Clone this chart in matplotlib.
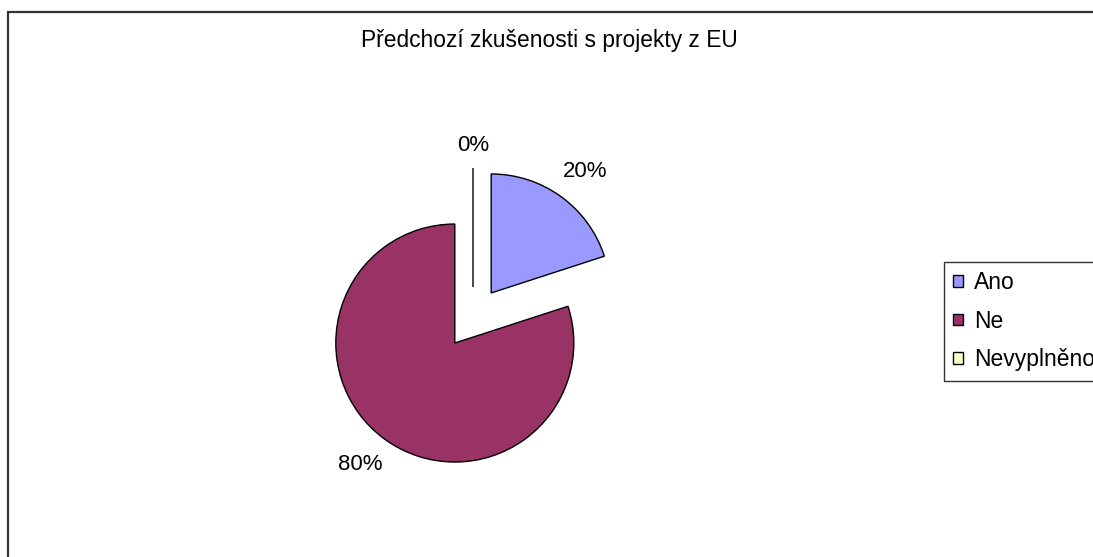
import numpy as np
import matplotlib
matplotlib.use("Agg")
import matplotlib.pyplot as plt
from matplotlib.patches import Rectangle

plt.rcParams["font.family"] = ["Liberation Sans", "DejaVu Sans"]

# survey answers
title = "Předchozí zkušenosti s projekty z EU"
categories = ["Ano", "Ne", "Nevyplněno"]
shares = [20, 80, 0]
colors = ["#9999FF", "#993366", "#FFFFCC"]

W, H = 1093, 557
fig = plt.figure(figsize=(W / 100, H / 100), dpi=100)
ax = fig.add_axes([0, 0, 1, 1])

center = (473, H - 318)
radius = 119
explode = 0.26 * radius  # pie() takes the offset in data units

wedges, _, pct_texts = ax.pie(
    shares,
    colors=colors,
    startangle=90,
    counterclock=False,
    center=center,
    radius=radius,
    explode=[explode] * len(shares),
    autopct=lambda p: f"{p:.0f}%",
    pctdistance=1.29,
    wedgeprops=dict(edgecolor="black", linewidth=1.0),
    textprops=dict(fontsize=16, color="black"),
)

# nudge the value labels: slight turn for the big slices,
# the empty slice gets its label pulled in closer
label_dist = [1.29, 1.29, 1.19]
label_turn = [-1.5, -1.5, 0.0]
for w, t, d, turn in zip(wedges, pct_texts, label_dist, label_turn):
    ang = np.deg2rad((w.theta1 + w.theta2) / 2 + turn)
    r = explode + radius * d
    t.set_position((center[0] + r * np.cos(ang), center[1] + r * np.sin(ang)))

ax.set_xlim(0, W)
ax.set_ylim(0, H)
ax.set_aspect("equal")
ax.axis("off")

# chart area border (runs off the right and bottom edge)
ax.add_patch(Rectangle((8, -20), W + 40, H - 12 + 20, fill=False,
                       edgecolor="#333333", linewidth=1.6, clip_on=False))

ax.text(549, H - 47, title, fontsize=16.4, ha="center", va="baseline")

leg = fig.legend(
    wedges, categories,
    loc="upper left",
    bbox_to_anchor=(944 / W, 1 - 262 / H),
    frameon=True, fancybox=False,
    fontsize=16.5,
    handlelength=0.41, handleheight=0.41,
    handletextpad=0.5, labelspacing=0.68,
    borderpad=0.4, borderaxespad=0,
)
leg.get_frame().set_edgecolor("black")
leg.get_frame().set_linewidth(1.0)
for h in leg.legend_handles:
    h.set_edgecolor("black")

fig.savefig("out.png", dpi=100)
